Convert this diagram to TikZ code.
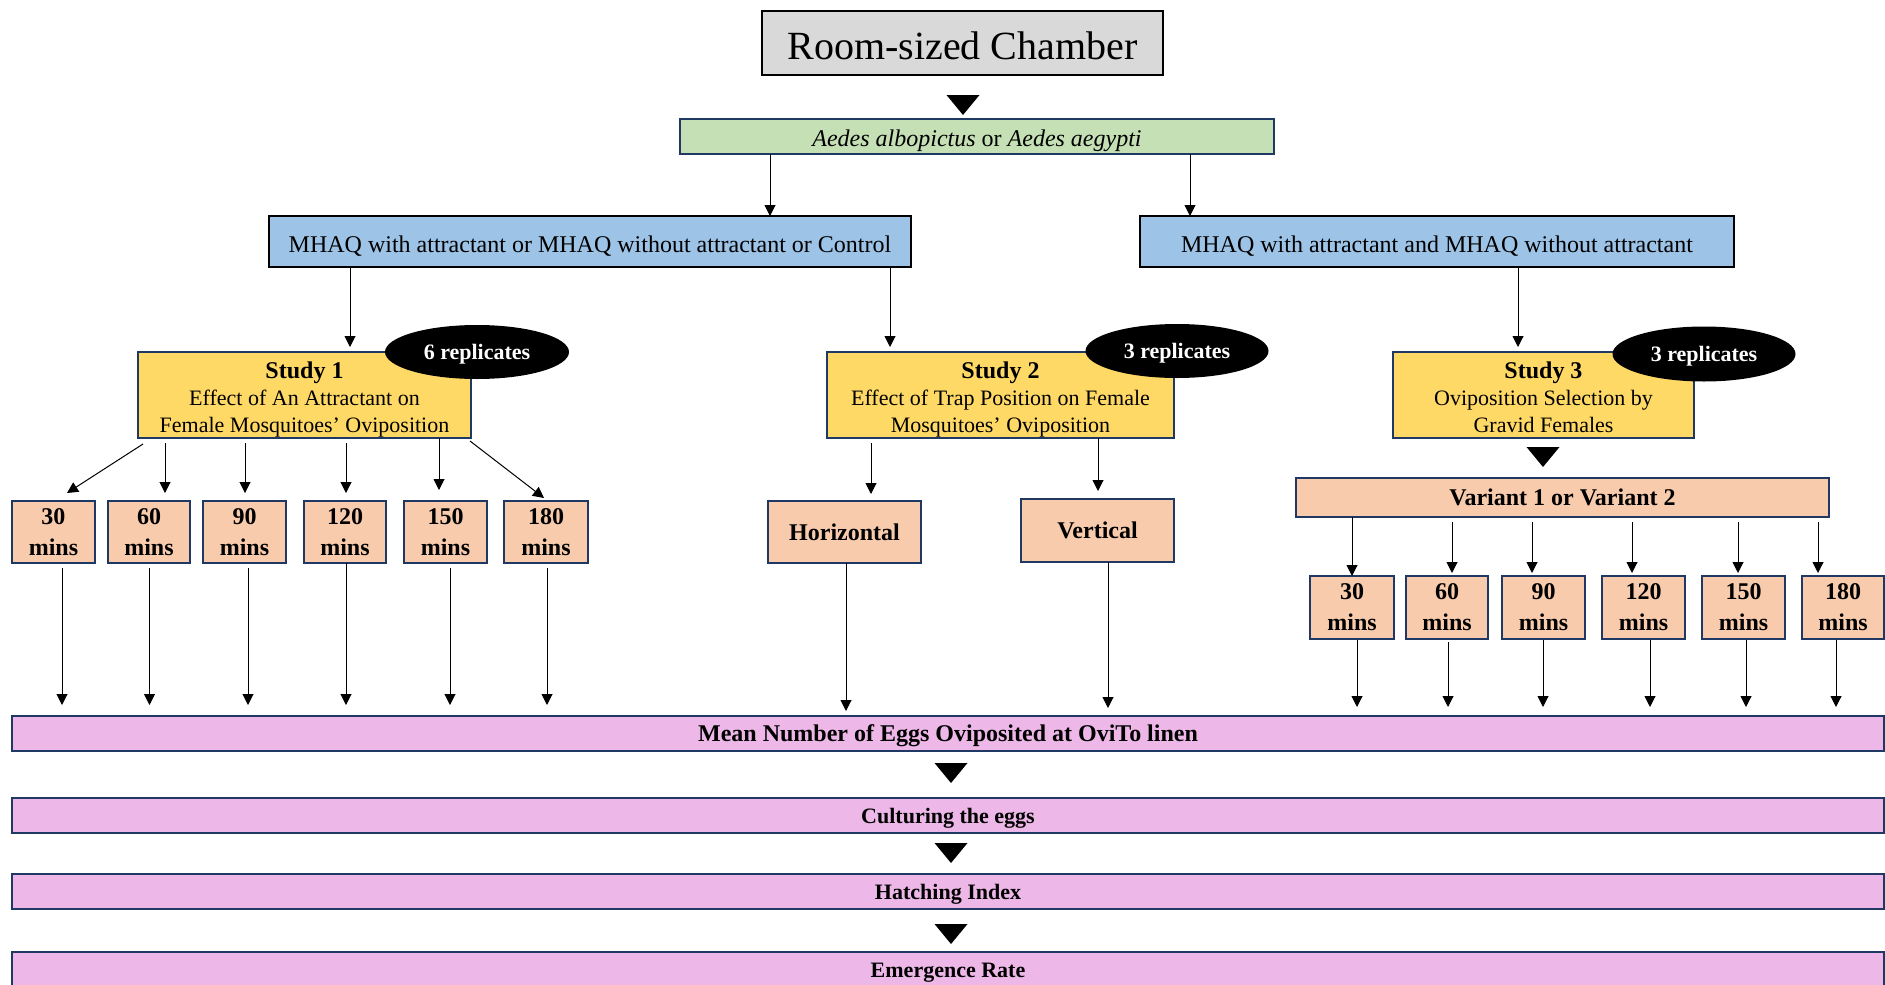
\documentclass[tikz,border=0pt]{standalone}
\usepackage{fontspec}
\setmainfont{Liberation Serif}
\usetikzlibrary{arrows.meta,calc,shapes.geometric}
\definecolor{cgray}{HTML}{D9D9D9}
\definecolor{cgreen}{HTML}{C5E0B4}
\definecolor{cblue}{HTML}{9DC3E6}
\definecolor{cyellow}{HTML}{FFD966}
\definecolor{cpeach}{HTML}{F8CBAD}
\definecolor{cpink}{HTML}{EDB7E8}
\definecolor{navy}{HTML}{1F3864}
% name, style, x1, y1, x2, y2, text
\newcommand\mkbox[7]{%
  \node[#2, minimum width={(#5-#3)*1pt}, minimum height={(#6-#4)*1pt}]
    (#1) at ({(#3+#5)/2},{(#4+#6)/2}) {#7};}
\newcommand\studyhead[1]{\rule{0pt}{25pt}{\bfseries\fontsize{24}{27}\selectfont #1}}
\newcommand\deepline{\rule[-4.8pt]{0pt}{1pt}}
\begin{document}
\begin{tikzpicture}[x=1pt,y=-1pt,
  lowertext/.style={execute at begin node={\rule{0pt}{#1}}},
  box/.style={draw=navy, line width=2pt, inner sep=0pt, outer sep=0pt, align=center, text=black},
  titlebox/.style={box, draw=black, fill=cgray, font=\fontsize{40}{48}\selectfont, lowertext=33.6pt},
  speciesbox/.style={box, fill=cgreen, font=\fontsize{24}{28}\selectfont, lowertext=24.4pt},
  groupbox/.style={box, draw=black, fill=cblue, font=\fontsize{24}{28}\selectfont, lowertext=26.4pt},
  studybox/.style={box, fill=cyellow, font=\fontsize{22}{27}\selectfont},
  timebox/.style={box, fill=cpeach, font=\bfseries\fontsize{24}{31}\selectfont},
  resultbox/.style={box, fill=cpink, font=\bfseries\fontsize{22}{26}\selectfont, lowertext=21pt},
  rep/.style={ellipse, fill=black, text=white, inner sep=0pt, font=\bfseries\fontsize{22}{26}\selectfont, lowertext=19pt},
  arr/.style={-{Triangle[width=11pt,length=11pt]}, line width=1pt, draw=black},
  bigtri/.pic={\fill[black] (-16.5,0) -- (16.5,0) -- (0,20) -- cycle;}
]
\useasboundingbox (0,0) rectangle (1885,985);
\clip (0,0) rectangle (1885,985);

% top
\mkbox{top}{titlebox}{762}{11}{1163}{75}{Room-sized Chamber}
\pic at (963,95) {bigtri};
\mkbox{g}{speciesbox}{680}{119}{1274}{154}{\textit{Aedes albopictus} or \textit{Aedes aegypti}}
\mkbox{bl}{groupbox}{269}{216}{911}{267}{MHAQ with attractant or MHAQ without attractant or Control}
\mkbox{br}{groupbox}{1140}{216}{1734}{267}{MHAQ with attractant and MHAQ without attractant}
\draw[arr] ($(g.south)+(-207,0)$) coordinate (t) -- (t |- bl.north);
\draw[arr] ($(g.south)+(213,0)$) coordinate (t) -- (t |- br.north);

% studies
\mkbox{s1}{studybox}{138}{352}{471}{438}{\studyhead{Study 1}\\Effect of An Attractant on\\Female Mosquitoes’ Oviposition}
\mkbox{s2}{studybox}{827}{352}{1174}{438}{\studyhead{Study 2}\\Effect of Trap Position on Female\\Mosquitoes’ Oviposition}
\mkbox{s3}{studybox}{1393}{352}{1694}{438}{\studyhead{Study 3}\\Oviposition Selection by\\Gravid Females\deepline}
\node[rep, minimum width=184pt, minimum height=54pt] (r1) at (477,352) {6 replicates};
\node[rep, minimum width=183pt, minimum height=54pt] (r2) at (1177,351) {3 replicates};
\node[rep, minimum width=183pt, minimum height=55pt] (r3) at (1704,354) {3 replicates};
\draw[arr, shorten >=5pt] ($(bl.south)+(-240,0)$) coordinate (t) -- (t |- s1.north);
\draw[arr, shorten >=5pt] ($(bl.south)+(300,0)$) coordinate (t) -- (t |- s2.north);
\draw[arr, shorten >=5pt] ($(br.south)+(81,0)$) coordinate (t) -- (t |- s3.north);

% study 1 times
\mkbox{m1}{timebox}{12}{501}{95}{563}{30\\mins}
\mkbox{m2}{timebox}{108}{501}{190}{563}{60\\mins}
\mkbox{m3}{timebox}{203}{501}{286}{563}{90\\mins}
\mkbox{m4}{timebox}{304}{501}{386}{563}{120\\mins}
\mkbox{m5}{timebox}{404}{501}{487}{563}{150\\mins}
\mkbox{m6}{timebox}{504}{501}{588}{563}{180\\mins}
\draw[arr] ($(s1.south west)+(5,6)$) -- ($(m1.north west)+(55,-8)$);
\draw[arr, shorten >=8pt] ($(s1.south west)+(27,5)$) coordinate (t) -- (t |- m2.north);
\draw[arr, shorten >=8pt] ($(s1.south west)+(107,5)$) coordinate (t) -- (t |- m3.north);
\draw[arr, shorten >=8pt] ($(s1.south west)+(208,5)$) coordinate (t) -- (t |- m4.north);
\draw[arr, shorten >=11pt] ($(s1.south west)+(301,0)$) coordinate (t) -- (t |- m5.north);
\draw[arr] ($(s1.south east)+(-1,3)$) -- ($(m6.north west)+(40,-3)$);

% study 2 positions
\mkbox{h}{timebox}{768}{501}{921}{563}{Horizontal}
\mkbox{v}{timebox}{1021}{499}{1174}{562}{Vertical}
\draw[arr, shorten >=7pt] ($(s2.south west)+(44,5)$) coordinate (t) -- (t |- h.north);
\draw[arr, shorten >=8pt] ($(s2.south west)+(271,0)$) coordinate (t) -- (t |- v.north);

% study 3 variants
\pic at (1543,447) {bigtri};
\mkbox{var}{timebox}{1296}{478}{1829}{517}{Variant 1 or Variant 2}
\mkbox{n1}{timebox}{1310}{576}{1394}{639}{30\\mins}
\mkbox{n2}{timebox}{1406}{576}{1488}{639}{60\\mins}
\mkbox{n3}{timebox}{1502}{576}{1585}{639}{90\\mins}
\mkbox{n4}{timebox}{1602}{576}{1685}{639}{120\\mins}
\mkbox{n5}{timebox}{1702}{576}{1785}{639}{150\\mins}
\mkbox{n6}{timebox}{1802}{576}{1884}{639}{180\\mins}
\draw[arr] ($(var.south west)+(56,0)$) coordinate (t) -- (t |- n1.north);
\draw[arr, shorten >=3pt] ($(var.south west)+(156,5)$) coordinate (t) -- (t |- n2.north);
\draw[arr, shorten >=3pt] ($(var.south west)+(236,5)$) coordinate (t) -- (t |- n3.north);
\draw[arr, shorten >=3pt] ($(var.south west)+(336,5)$) coordinate (t) -- (t |- n4.north);
\draw[arr, shorten >=3pt] ($(var.south west)+(442,5)$) coordinate (t) -- (t |- n5.north);
\draw[arr, shorten >=3pt] ($(var.south west)+(522,5)$) coordinate (t) -- (t |- n6.north);

% results
\mkbox{p1}{resultbox}{12}{716}{1884}{751}{\fontsize{24}{28}\selectfont Mean Number of Eggs Oviposited at OviTo linen}
\pic at (951,763) {bigtri};
\mkbox{p2}{resultbox}{12}{798}{1884}{833}{Culturing the eggs}
\pic at (951,843) {bigtri};
\mkbox{p3}{resultbox}{12}{874}{1884}{909}{Hatching Index}
\pic at (951,924) {bigtri};
\node[box, fill=cpink, minimum width=1872pt, minimum height=48pt, anchor=north west] (p4) at (12,952) {};
\node[font=\bfseries\fontsize{22}{26}\selectfont, inner sep=0pt] (p4t) at (948,973) {Emergence Rate};

% into results
\draw[arr, shorten >=11pt] ($(m1.south west)+(50,5)$) coordinate (t) -- (t |- p1.north);
\draw[arr, shorten >=11pt] ($(m2.south west)+(41.5,5)$) coordinate (t) -- (t |- p1.north);
\draw[arr, shorten >=11pt] ($(m3.south west)+(45,5)$) coordinate (t) -- (t |- p1.north);
\draw[arr, shorten >=11pt] ($(m4.south west)+(42,0)$) coordinate (t) -- (t |- p1.north);
\draw[arr, shorten >=11pt] ($(m5.south west)+(46,5)$) coordinate (t) -- (t |- p1.north);
\draw[arr, shorten >=11pt] ($(m6.south west)+(43,5)$) coordinate (t) -- (t |- p1.north);
\draw[arr, shorten >=5pt] ($(h.south west)+(78,0)$) coordinate (t) -- (t |- p1.north);
\draw[arr, shorten >=8pt] ($(v.south west)+(87,0)$) coordinate (t) -- (t |- p1.north);
\draw[arr, shorten >=9pt] ($(n1.south west)+(47,1)$) coordinate (t) -- (t |- p1.north);
\draw[arr, shorten >=9pt] ($(n2.south west)+(42,3)$) coordinate (t) -- (t |- p1.north);
\draw[arr, shorten >=9pt] ($(n3.south west)+(41,1)$) coordinate (t) -- (t |- p1.north);
\draw[arr, shorten >=9pt] ($(n4.south west)+(48,1)$) coordinate (t) -- (t |- p1.north);
\draw[arr, shorten >=9pt] ($(n5.south west)+(44,1)$) coordinate (t) -- (t |- p1.north);
\draw[arr, shorten >=9pt] ($(n6.south west)+(34,1)$) coordinate (t) -- (t |- p1.north);
\end{tikzpicture}
\end{document}
